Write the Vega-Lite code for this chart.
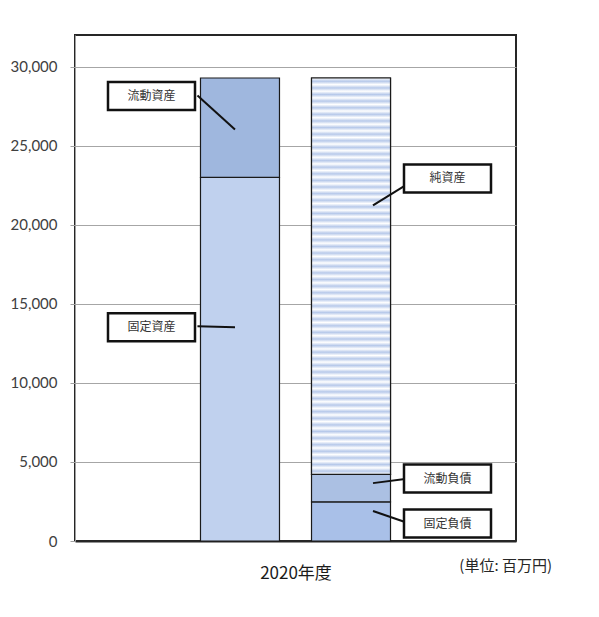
{
  "$schema": "https://vega.github.io/schema/vega-lite/v6.json",
  "width": 441,
  "height": 506,
  "autosize": {"type": "none"},
  "padding": {"left": 75, "top": 35, "right": 83, "bottom": 76},
  "background": "white",
  "title": {"text": "(単位: 百万円)", "orient": "bottom", "anchor": "end", "frame": "group", "dx": 36, "dy": -26, "fontSize": 15, "fontWeight": "normal", "font": "Noto Sans CJK JP", "color": "#262626"},
  "config": {"view": {"stroke": "#262626", "strokeWidth": 2}},
  "datasets": {
    "bars": [
      {"side": "資産", "item": "固定資産", "value": 23000, "order": 1},
      {"side": "資産", "item": "流動資産", "value": 6280, "order": 2},
      {"side": "負債・純資産", "item": "固定負債", "value": 2480, "order": 1},
      {"side": "負債・純資産", "item": "流動負債", "value": 1730, "order": 2},
      {"side": "負債・純資産", "item": "純資産", "value": 25070, "order": 3}
    ],
    "labelsLeft": [
      {"side": "資産", "label": "流動資産", "y": 28140},
      {"side": "資産", "label": "固定資産", "y": 13520}
    ],
    "labelsRight": [
      {"side": "負債・純資産", "label": "純資産", "y": 22930},
      {"side": "負債・純資産", "label": "流動負債", "y": 3950},
      {"side": "負債・純資産", "label": "固定負債", "y": 1100}
    ],
    "linesLeft": [
      {"side": "資産", "y1": 28170, "y2": 26020},
      {"side": "資産", "y1": 13580, "y2": 13520}
    ],
    "linesRight": [
      {"side": "負債・純資産", "y1": 22480, "y2": 21220},
      {"side": "負債・純資産", "y1": 3920, "y2": 3660},
      {"side": "負債・純資産", "y1": 1200, "y2": 1900}
    ]
  },
  "encoding": {
    "x": {
      "field": "side",
      "type": "nominal",
      "scale": {"type": "band", "domain": ["資産", "負債・純資産"], "paddingInner": 0, "paddingOuter": 0.986},
      "axis": {"labels": false, "ticks": false, "domain": true, "domainColor": "#262626", "domainWidth": 2, "title": "2020年度", "titleFont": "Noto Sans CJK JP", "titleFontSize": 17, "titleFontWeight": "normal", "titleColor": "#1a1a1a", "titlePadding": 24}
    }
  },
  "layer": [
    {
      "data": {"name": "bars"},
      "mark": {"type": "bar", "width": 79, "stroke": "#1a1a1a", "strokeWidth": 1.2},
      "encoding": {
        "y": {
          "field": "value",
          "type": "quantitative",
          "stack": "zero",
          "scale": {"domain": [0, 32000], "nice": false},
          "axis": {"values": [0, 5000, 10000, 15000, 20000, 25000, 30000], "format": ",.0f", "title": null, "labelFont": "Lato", "labelFontSize": 15, "labelColor": "#404040", "labelPadding": 13, "tickSize": 5, "tickColor": "#a0a0a0", "domainColor": "#a0a0a0", "gridColor": "#a6a6a6", "gridWidth": 1}
        },
        "color": {
          "field": "item",
          "type": "nominal",
          "scale": {"domain": ["固定資産", "流動資産", "固定負債", "流動負債", "純資産"], "range": ["#c0d1ee", "#9fb7de", "#a9c0e8", "#abc0e3", "#e6ecf7"]},
          "legend": null
        },
        "order": {"field": "order", "type": "quantitative"}
      }
    },
    {
      "data": {"name": "bars"},
      "transform": [
        {"stack": "value", "groupby": ["side"], "sort": [{"field": "order", "order": "ascending"}], "as": ["v0", "v1"]},
        {"filter": "datum.item === '純資産'"}
      ],
      "mark": {
        "type": "bar",
        "width": 79,
        "stroke": "#1a1a1a",
        "strokeWidth": 1.2,
        "fill": {
          "gradient": "linear", "x1": 0, "y1": 0, "x2": 0, "y2": 1,
          "stops": [
            {"offset": 0, "color": "#ffffff"}, {"offset": 0.0083, "color": "#b7c9ea"}, {"offset": 0.0167, "color": "#ffffff"}, {"offset": 0.025, "color": "#b7c9ea"},
            {"offset": 0.0333, "color": "#ffffff"}, {"offset": 0.0417, "color": "#b7c9ea"}, {"offset": 0.05, "color": "#ffffff"}, {"offset": 0.0583, "color": "#b7c9ea"},
            {"offset": 0.0667, "color": "#ffffff"}, {"offset": 0.075, "color": "#b7c9ea"}, {"offset": 0.0833, "color": "#ffffff"}, {"offset": 0.0917, "color": "#b7c9ea"},
            {"offset": 0.1, "color": "#ffffff"}, {"offset": 0.1083, "color": "#b7c9ea"}, {"offset": 0.1167, "color": "#ffffff"}, {"offset": 0.125, "color": "#b7c9ea"},
            {"offset": 0.1333, "color": "#ffffff"}, {"offset": 0.1417, "color": "#b7c9ea"}, {"offset": 0.15, "color": "#ffffff"}, {"offset": 0.1583, "color": "#b7c9ea"},
            {"offset": 0.1667, "color": "#ffffff"}, {"offset": 0.175, "color": "#b7c9ea"}, {"offset": 0.1833, "color": "#ffffff"}, {"offset": 0.1917, "color": "#b7c9ea"},
            {"offset": 0.2, "color": "#ffffff"}, {"offset": 0.2083, "color": "#b7c9ea"}, {"offset": 0.2167, "color": "#ffffff"}, {"offset": 0.225, "color": "#b7c9ea"},
            {"offset": 0.2333, "color": "#ffffff"}, {"offset": 0.2417, "color": "#b7c9ea"}, {"offset": 0.25, "color": "#ffffff"}, {"offset": 0.2583, "color": "#b7c9ea"},
            {"offset": 0.2667, "color": "#ffffff"}, {"offset": 0.275, "color": "#b7c9ea"}, {"offset": 0.2833, "color": "#ffffff"}, {"offset": 0.2917, "color": "#b7c9ea"},
            {"offset": 0.3, "color": "#ffffff"}, {"offset": 0.3083, "color": "#b7c9ea"}, {"offset": 0.3167, "color": "#ffffff"}, {"offset": 0.325, "color": "#b7c9ea"},
            {"offset": 0.3333, "color": "#ffffff"}, {"offset": 0.3417, "color": "#b7c9ea"}, {"offset": 0.35, "color": "#ffffff"}, {"offset": 0.3583, "color": "#b7c9ea"},
            {"offset": 0.3667, "color": "#ffffff"}, {"offset": 0.375, "color": "#b7c9ea"}, {"offset": 0.3833, "color": "#ffffff"}, {"offset": 0.3917, "color": "#b7c9ea"},
            {"offset": 0.4, "color": "#ffffff"}, {"offset": 0.4083, "color": "#b7c9ea"}, {"offset": 0.4167, "color": "#ffffff"}, {"offset": 0.425, "color": "#b7c9ea"},
            {"offset": 0.4333, "color": "#ffffff"}, {"offset": 0.4417, "color": "#b7c9ea"}, {"offset": 0.45, "color": "#ffffff"}, {"offset": 0.4583, "color": "#b7c9ea"},
            {"offset": 0.4667, "color": "#ffffff"}, {"offset": 0.475, "color": "#b7c9ea"}, {"offset": 0.4833, "color": "#ffffff"}, {"offset": 0.4917, "color": "#b7c9ea"},
            {"offset": 0.5, "color": "#ffffff"}, {"offset": 0.5083, "color": "#b7c9ea"}, {"offset": 0.5167, "color": "#ffffff"}, {"offset": 0.525, "color": "#b7c9ea"},
            {"offset": 0.5333, "color": "#ffffff"}, {"offset": 0.5417, "color": "#b7c9ea"}, {"offset": 0.55, "color": "#ffffff"}, {"offset": 0.5583, "color": "#b7c9ea"},
            {"offset": 0.5667, "color": "#ffffff"}, {"offset": 0.575, "color": "#b7c9ea"}, {"offset": 0.5833, "color": "#ffffff"}, {"offset": 0.5917, "color": "#b7c9ea"},
            {"offset": 0.6, "color": "#ffffff"}, {"offset": 0.6083, "color": "#b7c9ea"}, {"offset": 0.6167, "color": "#ffffff"}, {"offset": 0.625, "color": "#b7c9ea"},
            {"offset": 0.6333, "color": "#ffffff"}, {"offset": 0.6417, "color": "#b7c9ea"}, {"offset": 0.65, "color": "#ffffff"}, {"offset": 0.6583, "color": "#b7c9ea"},
            {"offset": 0.6667, "color": "#ffffff"}, {"offset": 0.675, "color": "#b7c9ea"}, {"offset": 0.6833, "color": "#ffffff"}, {"offset": 0.6917, "color": "#b7c9ea"},
            {"offset": 0.7, "color": "#ffffff"}, {"offset": 0.7083, "color": "#b7c9ea"}, {"offset": 0.7167, "color": "#ffffff"}, {"offset": 0.725, "color": "#b7c9ea"},
            {"offset": 0.7333, "color": "#ffffff"}, {"offset": 0.7417, "color": "#b7c9ea"}, {"offset": 0.75, "color": "#ffffff"}, {"offset": 0.7583, "color": "#b7c9ea"},
            {"offset": 0.7667, "color": "#ffffff"}, {"offset": 0.775, "color": "#b7c9ea"}, {"offset": 0.7833, "color": "#ffffff"}, {"offset": 0.7917, "color": "#b7c9ea"},
            {"offset": 0.8, "color": "#ffffff"}, {"offset": 0.8083, "color": "#b7c9ea"}, {"offset": 0.8167, "color": "#ffffff"}, {"offset": 0.825, "color": "#b7c9ea"},
            {"offset": 0.8333, "color": "#ffffff"}, {"offset": 0.8417, "color": "#b7c9ea"}, {"offset": 0.85, "color": "#ffffff"}, {"offset": 0.8583, "color": "#b7c9ea"},
            {"offset": 0.8667, "color": "#ffffff"}, {"offset": 0.875, "color": "#b7c9ea"}, {"offset": 0.8833, "color": "#ffffff"}, {"offset": 0.8917, "color": "#b7c9ea"},
            {"offset": 0.9, "color": "#ffffff"}, {"offset": 0.9083, "color": "#b7c9ea"}, {"offset": 0.9167, "color": "#ffffff"}, {"offset": 0.925, "color": "#b7c9ea"},
            {"offset": 0.9333, "color": "#ffffff"}, {"offset": 0.9417, "color": "#b7c9ea"}, {"offset": 0.95, "color": "#ffffff"}, {"offset": 0.9583, "color": "#b7c9ea"},
            {"offset": 0.9667, "color": "#ffffff"}, {"offset": 0.975, "color": "#b7c9ea"}, {"offset": 0.9833, "color": "#ffffff"}, {"offset": 0.9917, "color": "#b7c9ea"},
            {"offset": 1, "color": "#ffffff"}
          ]
        }
      },
      "encoding": {
        "y": {"field": "v0", "type": "quantitative"},
        "y2": {"field": "v1"}
      }
    },
    {
      "data": {"name": "linesLeft"},
      "mark": {"type": "rule", "strokeWidth": 2, "color": "#111111"},
      "encoding": {
        "x": {"field": "side", "type": "nominal", "bandPosition": 0.117},
        "x2": {"field": "side", "bandPosition": 0.455},
        "y": {"field": "y1", "type": "quantitative"},
        "y2": {"field": "y2"}
      }
    },
    {
      "data": {"name": "linesRight"},
      "mark": {"type": "rule", "strokeWidth": 2, "color": "#111111"},
      "encoding": {
        "x": {"field": "side", "type": "nominal", "bandPosition": 0.986},
        "x2": {"field": "side", "bandPosition": 0.698},
        "y": {"field": "y1", "type": "quantitative"},
        "y2": {"field": "y2"}
      }
    },
    {
      "data": {"name": "labelsLeft"},
      "mark": {"type": "point", "shape": "M-1,-0.322L1,-0.322L1,0.322L-1,0.322Z", "size": 7569, "filled": true, "fill": "white", "stroke": "#111111", "strokeWidth": 2.5, "opacity": 1},
      "encoding": {
        "x": {"field": "side", "type": "nominal", "bandPosition": -0.297},
        "y": {"field": "y", "type": "quantitative"}
      }
    },
    {
      "data": {"name": "labelsRight"},
      "mark": {"type": "point", "shape": "M-1,-0.322L1,-0.322L1,0.322L-1,0.322Z", "size": 7569, "filled": true, "fill": "white", "stroke": "#111111", "strokeWidth": 2.5, "opacity": 1},
      "encoding": {
        "x": {"field": "side", "type": "nominal", "bandPosition": 1.369},
        "y": {"field": "y", "type": "quantitative"}
      }
    },
    {
      "data": {"name": "labelsLeft"},
      "mark": {"type": "text", "font": "Noto Sans CJK JP", "fontSize": 12, "color": "#333333", "align": "center", "baseline": "middle"},
      "encoding": {
        "x": {"field": "side", "type": "nominal", "bandPosition": -0.297},
        "y": {"field": "y", "type": "quantitative"},
        "text": {"field": "label"}
      }
    },
    {
      "data": {"name": "labelsRight"},
      "mark": {"type": "text", "font": "Noto Sans CJK JP", "fontSize": 12, "color": "#333333", "align": "center", "baseline": "middle"},
      "encoding": {
        "x": {"field": "side", "type": "nominal", "bandPosition": 1.369},
        "y": {"field": "y", "type": "quantitative"},
        "text": {"field": "label"}
      }
    }
  ]
}
